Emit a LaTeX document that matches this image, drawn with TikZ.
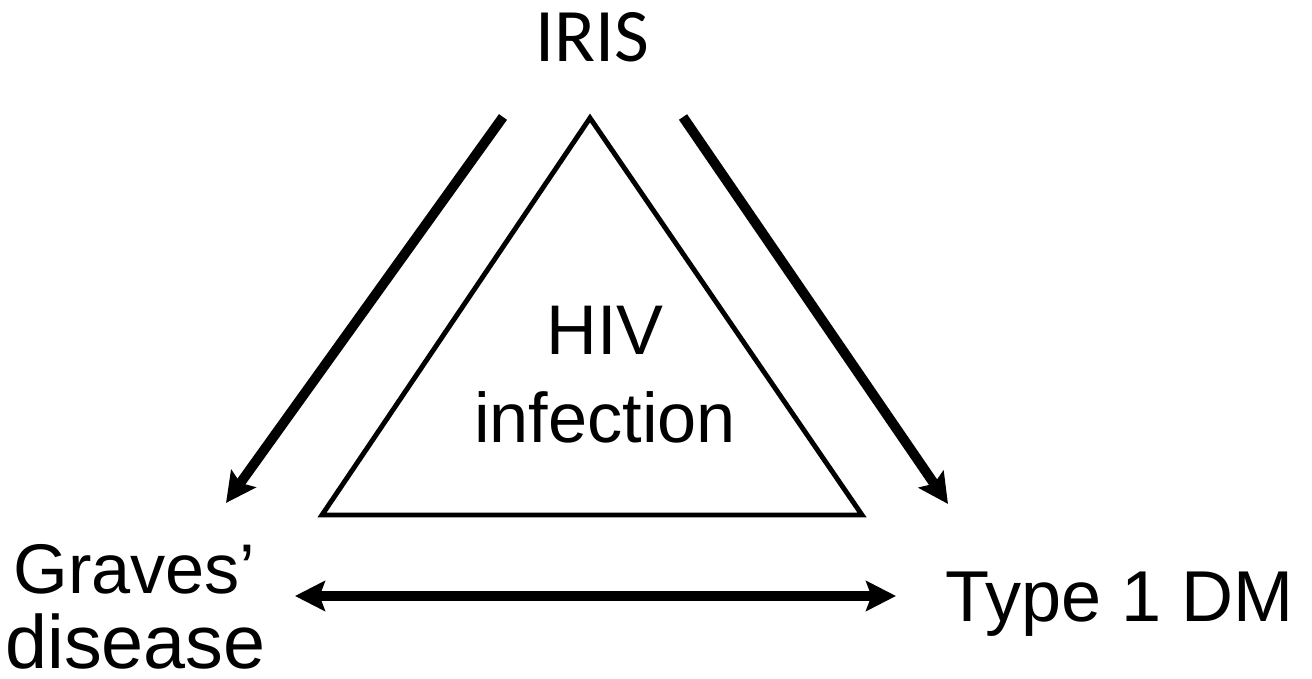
\documentclass[tikz,border=0pt]{standalone}
\usepackage{fontspec}
\setmainfont{Liberation Sans}
\newfontfamily\irisfont{Carlito}
\usetikzlibrary{arrows.meta}

\begin{document}
\begin{tikzpicture}[>={Stealth[length=17pt,width=17pt,inset=3pt]},
		thick arrow/.style={line width=5.6pt},
		big label/.style={inner sep=0pt,font=\fontsize{40}{40}\selectfont}]
			\useasboundingbox (0,0) rectangle (26.24,13.58);

			\coordinate (T) at (11.8,11.22);
			\coordinate (L) at (6.44,3.28);
			\coordinate (R) at (17.24,3.28);

			\draw[line width=2.8pt,miter limit=20] (T) -- (R) -- (L) -- cycle;

			\coordinate (l1) at (10.06,11.24);
			\coordinate (l2) at (4.52,3.52);
			\coordinate (r1) at (13.66,11.24);
			\coordinate (r2) at (18.96,3.5);
			\coordinate (b1) at (5.9,1.66);
			\coordinate (b2) at (17.92,1.66);

			\draw[thick arrow,->] (l1) -- (l2);
			\draw[thick arrow,->] (r1) -- (r2);
			\draw[thick arrow,<->] (b1) -- (b2);

			\node[big label,anchor=base,font=\irisfont\fontsize{43}{43}\selectfont] (iris) at (11.84,12.34) {IRIS};
			\node[big label,anchor=base] (hiv) at (12.1,6.48) {HIV};
			\node[big label,anchor=base] (infection) at (12.1,4.72) {infection};
			\node[big label,anchor=base west] (graves) at (0.26,1.7) {Graves'};
			\node[big label,anchor=base west,text depth=0pt,font=\fontsize{43}{43}\selectfont] (disease) at (0.1,0.2) {disease};
			\node[big label,anchor=base west,font=\fontsize{41}{41}\selectfont] (dm) at (18.9,1.14) {Type 1 DM};
		\end{tikzpicture}
\end{document}
